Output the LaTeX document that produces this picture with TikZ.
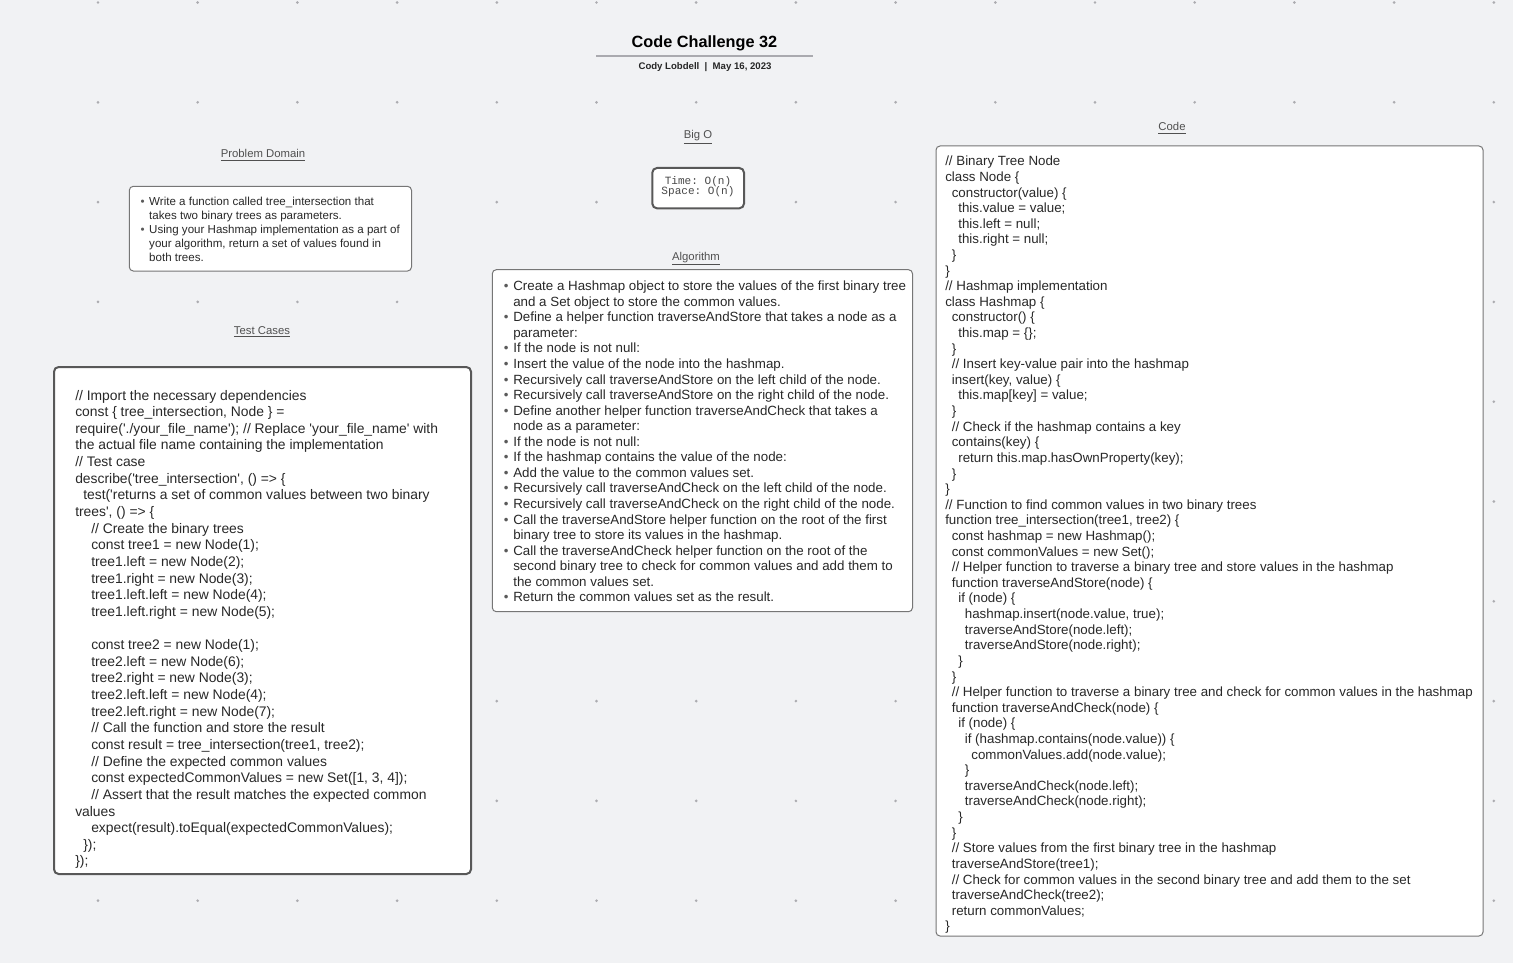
\documentclass[tikz,border=0pt]{standalone}
\usepackage{fontspec}
\setmainfont{Liberation Sans}[Ligatures=TeXOff]
\setmonofont{Liberation Mono}
\definecolor{bg}{RGB}{241,242,244}
\definecolor{dotc}{RGB}{172,172,176}
\definecolor{txt}{RGB}{40,40,40}
\definecolor{labc}{RGB}{80,80,80}
\definecolor{thin}{RGB}{118,118,118}
\definecolor{thick}{RGB}{88,88,88}
\definecolor{bulc}{RGB}{90,90,90}
\definecolor{tline}{RGB}{170,170,175}
\newlength\cind \setlength\cind{4.9pt}
\newlength\tind \setlength\tind{6pt}
\newcommand\algb{\makebox[7pt][l]{\textcolor{bulc}{\textbullet}}}
\newcommand\algc{\hspace*{7pt}}
\newcommand\prb{\makebox[6.5pt][l]{\textcolor{bulc}{\textbullet}}}
\newcommand\prc{\hspace*{6.5pt}}
\tikzset{
  thinbox/.style={draw=thin, line width=0.75pt, fill=white, rounded corners=3pt},
  thickbox/.style={draw=thick, line width=1.5pt, fill=white, rounded corners=3.5pt},
  lab/.style={anchor=base, inner sep=0pt, text=labc, font=\fontsize{8.5}{10}\selectfont},
  body/.style={anchor=base west, inner sep=0pt, text=txt},
  bigo/.style={anchor=base, inner sep=0pt, text=txt!85, font=\ttfamily\fontsize{8.3}{9}\selectfont}
}
\begin{document}
\begin{tikzpicture}[x=0.75pt,y=-0.75pt]
\useasboundingbox (0,0) rectangle (1513,963);
\fill[bg] (0,0) rectangle (1513,963);
\foreach \i in {0,...,14} \foreach \j in {0,...,9} \fill[dotc] (98+99.7*\i, 2.5+99.8*\j) circle (1.1pt);

% title
\node[anchor=base, inner sep=0pt, text=black, font=\bfseries\fontsize{12.2}{14}\selectfont] (title) at (704.5,47.5) {Code Challenge 32};
\draw[tline, line width=0.9pt] (596,56) -- (813,56);
\node[anchor=base, inner sep=0pt, text=black!85, font=\bfseries\fontsize{7.2}{9}\selectfont] (subtitle) at (705,69.8) {Cody Lobdell \ | \ May 16, 2023};

% section labels
\node[lab] (pdlab) at (263,158) {\underline{Problem Domain}};
\node[lab] (tclab) at (262,334) {\underline{Test Cases}};
\node[lab] (bolab) at (698,139) {\underline{Big O}};
\node[lab] (allab) at (696,260.5) {\underline{Algorithm}};
\node[lab] (cdlab) at (1172,131) {\underline{Code}};

% boxes
\draw[thinbox] (129.3,186.3) rectangle (411.5,271);
\draw[thickbox] (54,367) rectangle (471,874);
\draw[thickbox] (652.3,168) rectangle (744,208.3);
\draw[thinbox] (492.3,269.7) rectangle (912.5,611.7);
\draw[thinbox] (936,146) rectangle (1483,936);

% Problem domain
\node[body, font=\fontsize{8.67}{10.43}\selectfont] (pdtext) at (140.3,205.8) {\begin{tabular}[t]{@{}l@{}}
\prb Write a function called tree\_intersection that\\
\prc takes two binary trees as parameters.\\
\prb Using your Hashmap implementation as a part of\\
\prc your algorithm, return a set of values found in\\
\prc both trees.
\end{tabular}};

% Big O
\node[bigo] (botime) at (698,184.8) {Time: O(n)};
\node[bigo] (bospace) at (698,194.5) {Space: O(n)};

% Algorithm
\node[body, font=\fontsize{10}{11.66}\selectfont] (altext) at (503.7,290.8) {\begin{tabular}[t]{@{}l@{}}
\algb Create a Hashmap object to store the values of the first binary tree\\
\algc and a Set object to store the common values.\\
\algb Define a helper function traverseAndStore that takes a node as a\\
\algc parameter:\\
\algb If the node is not null:\\
\algb Insert the value of the node into the hashmap.\\
\algb Recursively call traverseAndStore on the left child of the node.\\
\algb Recursively call traverseAndStore on the right child of the node.\\
\algb Define another helper function traverseAndCheck that takes a\\
\algc node as a parameter:\\
\algb If the node is not null:\\
\algb If the hashmap contains the value of the node:\\
\algb Add the value to the common values set.\\
\algb Recursively call traverseAndCheck on the left child of the node.\\
\algb Recursively call traverseAndCheck on the right child of the node.\\
\algb Call the traverseAndStore helper function on the root of the first\\
\algc binary tree to store its values in the hashmap.\\
\algb Call the traverseAndCheck helper function on the root of the\\
\algc second binary tree to check for common values and add them to\\
\algc the common values set.\\
\algb Return the common values set as the result.
\end{tabular}};

% Test cases
\node[body, font=\fontsize{10.4}{12.48}\selectfont] (tctext) at (75,400) {\begin{tabular}[t]{@{}l@{}}
// Import the necessary dependencies\\
const \{ tree\_intersection, Node \} =\\
require('./your\_file\_name'); // Replace 'your\_file\_name' with\\
the actual file name containing the implementation\\
// Test case\\
describe('tree\_intersection', () => \{\\
\hspace*{\tind}test('returns a set of common values between two binary\\
trees', () => \{\\
\hspace*{2\tind}// Create the binary trees\\
\hspace*{2\tind}const tree1 = new Node(1);\\
\hspace*{2\tind}tree1.left = new Node(2);\\
\hspace*{2\tind}tree1.right = new Node(3);\\
\hspace*{2\tind}tree1.left.left = new Node(4);\\
\hspace*{2\tind}tree1.left.right = new Node(5);\\
\mbox{}\\
\hspace*{2\tind}const tree2 = new Node(1);\\
\hspace*{2\tind}tree2.left = new Node(6);\\
\hspace*{2\tind}tree2.right = new Node(3);\\
\hspace*{2\tind}tree2.left.left = new Node(4);\\
\hspace*{2\tind}tree2.left.right = new Node(7);\\
\hspace*{2\tind}// Call the function and store the result\\
\hspace*{2\tind}const result = tree\_intersection(tree1, tree2);\\
\hspace*{2\tind}// Define the expected common values\\
\hspace*{2\tind}const expectedCommonValues = new Set([1, 3, 4]);\\
\hspace*{2\tind}// Assert that the result matches the expected common\\
values\\
\hspace*{2\tind}expect(result).toEqual(expectedCommonValues);\\
\hspace*{\tind}\});\\
\});
\end{tabular}};

% Code
\node[body, font=\fontsize{10}{11.71}\selectfont] (cdtext) at (945,165.8) {\begin{tabular}[t]{@{}l@{}}
// Binary Tree Node\\
class Node \{\\
\hspace*{\cind}constructor(value) \{\\
\hspace*{2\cind}this.value = value;\\
\hspace*{2\cind}this.left = null;\\
\hspace*{2\cind}this.right = null;\\
\hspace*{\cind}\}\\
\}\\
// Hashmap implementation\\
class Hashmap \{\\
\hspace*{\cind}constructor() \{\\
\hspace*{2\cind}this.map = \{\};\\
\hspace*{\cind}\}\\
\hspace*{\cind}// Insert key-value pair into the hashmap\\
\hspace*{\cind}insert(key, value) \{\\
\hspace*{2\cind}this.map[key] = value;\\
\hspace*{\cind}\}\\
\hspace*{\cind}// Check if the hashmap contains a key\\
\hspace*{\cind}contains(key) \{\\
\hspace*{2\cind}return this.map.hasOwnProperty(key);\\
\hspace*{\cind}\}\\
\}\\
// Function to find common values in two binary trees\\
function tree\_intersection(tree1, tree2) \{\\
\hspace*{\cind}const hashmap = new Hashmap();\\
\hspace*{\cind}const commonValues = new Set();\\
\hspace*{\cind}// Helper function to traverse a binary tree and store values in the hashmap\\
\hspace*{\cind}function traverseAndStore(node) \{\\
\hspace*{2\cind}if (node) \{\\
\hspace*{3\cind}hashmap.insert(node.value, true);\\
\hspace*{3\cind}traverseAndStore(node.left);\\
\hspace*{3\cind}traverseAndStore(node.right);\\
\hspace*{2\cind}\}\\
\hspace*{\cind}\}\\
\hspace*{\cind}// Helper function to traverse a binary tree and check for common values in the hashmap\\
\hspace*{\cind}function traverseAndCheck(node) \{\\
\hspace*{2\cind}if (node) \{\\
\hspace*{3\cind}if (hashmap.contains(node.value)) \{\\
\hspace*{4\cind}commonValues.add(node.value);\\
\hspace*{3\cind}\}\\
\hspace*{3\cind}traverseAndCheck(node.left);\\
\hspace*{3\cind}traverseAndCheck(node.right);\\
\hspace*{2\cind}\}\\
\hspace*{\cind}\}\\
\hspace*{\cind}// Store values from the first binary tree in the hashmap\\
\hspace*{\cind}traverseAndStore(tree1);\\
\hspace*{\cind}// Check for common values in the second binary tree and add them to the set\\
\hspace*{\cind}traverseAndCheck(tree2);\\
\hspace*{\cind}return commonValues;\\
\}
\end{tabular}};
\end{tikzpicture}
\end{document}
